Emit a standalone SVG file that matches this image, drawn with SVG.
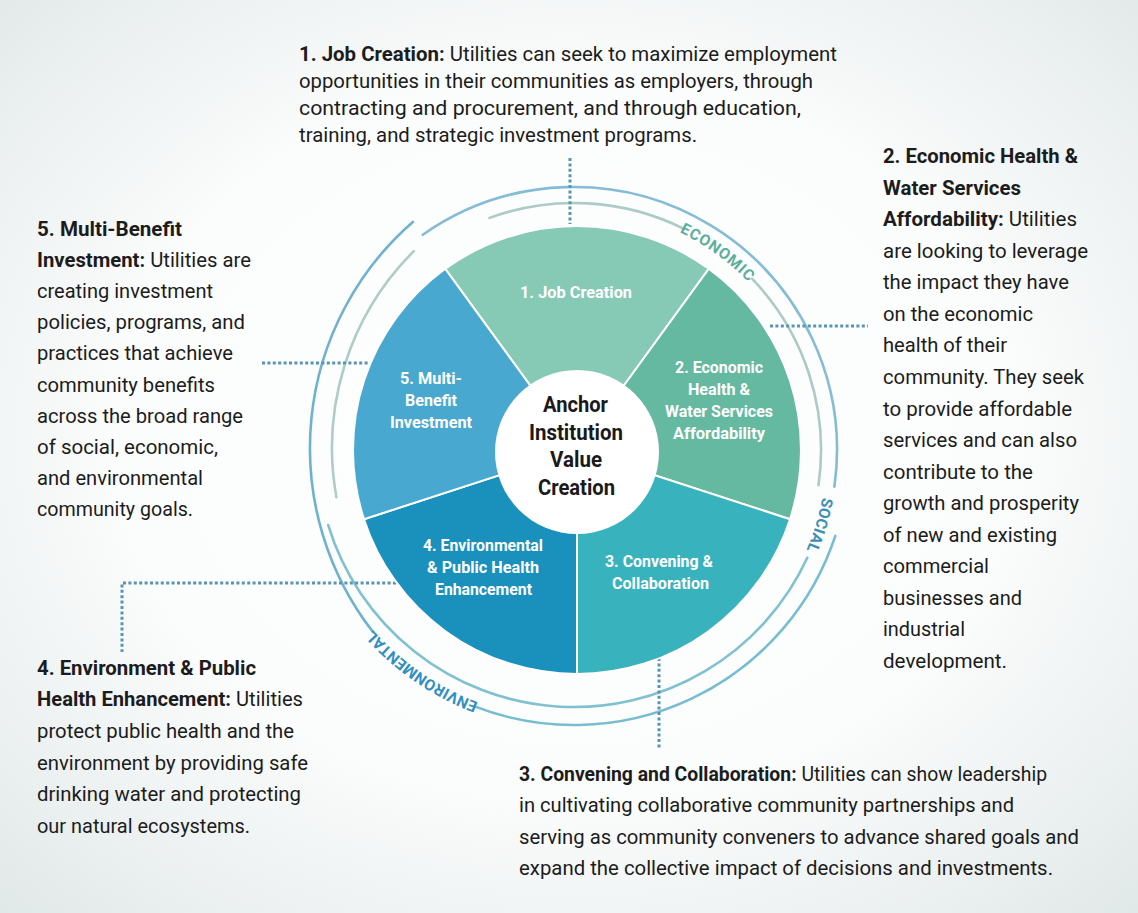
<svg xmlns="http://www.w3.org/2000/svg" width="1138" height="913" viewBox="0 0 1138 913">
<defs>
<radialGradient id="bg" cx="50%" cy="48%" r="72%">
<stop offset="0" stop-color="#ffffff"/>
<stop offset="0.55" stop-color="#fbfcfc"/>
<stop offset="1" stop-color="#e1e8e8"/>
</radialGradient>
<path id="pEco" d="M656.8,222.6 A242,242 0 0 1 764.7,301"/>
<path id="pSoc" d="M826,472 A253,253 0 0 1 795.3,572.7"/>
<path id="pEnv" d="M504.1,710.8 A270,270 0 0 1 355.6,608.7"/>
</defs>
<style>
.body{font-family:Roboto,"Liberation Sans",sans-serif;font-size:20.5px;fill:#1c1c1c}
.b{font-weight:bold}
.lab{font-family:Roboto,"Liberation Sans",sans-serif;font-size:17px;font-weight:bold;fill:#ffffff}
.ctr{font-family:Roboto,"Liberation Sans",sans-serif;font-size:22px;font-weight:bold;fill:#1a1a1a}
.sec{stroke:#ffffff;stroke-width:2}
.ring{fill:none;stroke-width:2.6;stroke-linecap:round}
.dot{fill:none;stroke:#5696b3;stroke-width:3;stroke-dasharray:3 2.4}
.arcl{font-family:Roboto,"Liberation Sans",sans-serif;font-size:15.5px;font-weight:bold}
</style>
<rect x="0" y="0" width="1138" height="913" fill="url(#bg)"/>

<g id="rings">
<path class="ring" stroke="#84bcd6" d="M422.8,234.8 A263,263 0 0 1 834.4,486.6"/>
<path class="ring" stroke="#abcbc4" d="M489.5,217.9 A247,247 0 0 1 684.2,229"/>
<path class="ring" stroke="#abcbc4" d="M752,278.7 A247,247 0 0 1 818.5,485.2"/>
<path class="ring" stroke="#77bdd0" d="M835.3,535.9 A275,275 0 0 1 474.6,706.4"/>
<path class="ring" stroke="#80c1d0" d="M807.3,557.8 A257,257 0 0 1 328.2,525.1"/>
<path class="ring" stroke="#6fb1d1" d="M372.9,631.9 A300,300 0 0 1 412.8,221.9"/>
<path class="ring" stroke="#aecdc6" d="M336.4,497.2 A278,278 0 0 1 413.8,251.1"/>
<text class="arcl" fill="#5aae9a" letter-spacing="0.8"><textPath href="#pEco" startOffset="50%" text-anchor="middle">ECONOMIC</textPath></text>
<text class="arcl" fill="#3a8fb5" letter-spacing="0.2"><textPath href="#pSoc" startOffset="50%" text-anchor="middle">SOCIAL</textPath></text>
<text class="arcl" fill="#2f8fc0" letter-spacing="0.2"><textPath href="#pEnv" startOffset="50%" text-anchor="middle">ENVIRONMENTAL</textPath></text>
</g>

<g id="connectors">
<path class="dot" d="M570,158 V224"/>
<path class="dot" d="M770,326 H868"/>
<path class="dot" d="M262,363 H368"/>
<path class="dot" d="M396,583 H122 V652"/>
<path class="dot" d="M659,658 V748"/>
</g>

<g id="sector1">
<path class="sec" fill="#86cab6" d="M577,450 L445.3,268.8 A224,224 0 0 1 708.7,268.8 Z"/>
<text class="lab" x="520" y="298" textLength="112" lengthAdjust="spacingAndGlyphs">1. Job Creation</text>
</g>
<g id="sector2">
<path class="sec" fill="#64b9a0" d="M577,450 L708.7,268.8 A224,224 0 0 1 790,519.2 Z"/>
<text class="lab" x="675" y="372.5" textLength="88" lengthAdjust="spacingAndGlyphs">2. Economic</text>
<text class="lab" x="688" y="394.5" textLength="62" lengthAdjust="spacingAndGlyphs">Health &amp;</text>
<text class="lab" x="665" y="416.5" textLength="108" lengthAdjust="spacingAndGlyphs">Water Services</text>
<text class="lab" x="673" y="438.5" textLength="92" lengthAdjust="spacingAndGlyphs">Affordability</text>
</g>
<g id="sector3">
<path class="sec" fill="#38b3bd" d="M577,450 L790,519.2 A224,224 0 0 1 577,674 Z"/>
<text class="lab" x="605" y="567" textLength="108" lengthAdjust="spacingAndGlyphs">3. Convening &amp;</text>
<text class="lab" x="612" y="589" textLength="97" lengthAdjust="spacingAndGlyphs">Collaboration</text>
</g>
<g id="sector4">
<path class="sec" fill="#1a90bd" d="M577,450 L577,674 A224,224 0 0 1 364,519.2 Z"/>
<text class="lab" x="423" y="551" textLength="120" lengthAdjust="spacingAndGlyphs">4. Environmental</text>
<text class="lab" x="427" y="573" textLength="112" lengthAdjust="spacingAndGlyphs">&amp; Public Health</text>
<text class="lab" x="435" y="594.5" textLength="97" lengthAdjust="spacingAndGlyphs">Enhancement</text>
</g>
<g id="sector5">
<path class="sec" fill="#48a8cf" d="M577,450 L364,519.2 A224,224 0 0 1 445.3,268.8 Z"/>
<text class="lab" x="400" y="384" textLength="62" lengthAdjust="spacingAndGlyphs">5. Multi-</text>
<text class="lab" x="405" y="406" textLength="52" lengthAdjust="spacingAndGlyphs">Benefit</text>
<text class="lab" x="390" y="428" textLength="82" lengthAdjust="spacingAndGlyphs">Investment</text>
</g>
<g id="center">
<circle cx="577" cy="452" r="82" fill="#ffffff"/>
<text class="ctr" x="543" y="412" textLength="65" lengthAdjust="spacingAndGlyphs">Anchor</text>
<text class="ctr" x="529" y="439.5" textLength="94" lengthAdjust="spacingAndGlyphs">Institution</text>
<text class="ctr" x="550" y="467" textLength="52" lengthAdjust="spacingAndGlyphs">Value</text>
<text class="ctr" x="538" y="495" textLength="77" lengthAdjust="spacingAndGlyphs">Creation</text>
</g>

<g id="text1">
<text class="body" x="299" y="60.5" textLength="538" lengthAdjust="spacingAndGlyphs"><tspan class="b">1. Job Creation:</tspan> Utilities can seek to maximize employment</text>
<text class="body" x="299" y="87.8" textLength="514" lengthAdjust="spacingAndGlyphs">opportunities in their communities as employers, through</text>
<text class="body" x="299" y="115" textLength="502" lengthAdjust="spacingAndGlyphs">contracting and procurement, and through education,</text>
<text class="body" x="299" y="142.3" textLength="398" lengthAdjust="spacingAndGlyphs">training, and strategic investment programs.</text>
</g>

<g id="text2">
<text class="body b" x="883" y="163" textLength="195" lengthAdjust="spacingAndGlyphs">2. Economic Health &amp;</text>
<text class="body b" x="883" y="194.6" textLength="138" lengthAdjust="spacingAndGlyphs">Water Services</text>
<text class="body" x="883" y="226.1" textLength="194" lengthAdjust="spacingAndGlyphs"><tspan class="b">Affordability:</tspan> Utilities</text>
<text class="body" x="883" y="257.7" textLength="205" lengthAdjust="spacingAndGlyphs">are looking to leverage</text>
<text class="body" x="883" y="289.2" textLength="186" lengthAdjust="spacingAndGlyphs">the impact they have</text>
<text class="body" x="883" y="320.8" textLength="150" lengthAdjust="spacingAndGlyphs">on the economic</text>
<text class="body" x="883" y="352.4" textLength="124" lengthAdjust="spacingAndGlyphs">health of their</text>
<text class="body" x="883" y="383.9" textLength="201" lengthAdjust="spacingAndGlyphs">community. They seek</text>
<text class="body" x="883" y="415.5" textLength="189" lengthAdjust="spacingAndGlyphs">to provide affordable</text>
<text class="body" x="883" y="447" textLength="194" lengthAdjust="spacingAndGlyphs">services and can also</text>
<text class="body" x="883" y="478.6" textLength="150" lengthAdjust="spacingAndGlyphs">contribute to the</text>
<text class="body" x="883" y="510.2" textLength="196" lengthAdjust="spacingAndGlyphs">growth and prosperity</text>
<text class="body" x="883" y="541.7" textLength="174" lengthAdjust="spacingAndGlyphs">of new and existing</text>
<text class="body" x="883" y="573.3" textLength="106" lengthAdjust="spacingAndGlyphs">commercial</text>
<text class="body" x="883" y="604.8" textLength="139" lengthAdjust="spacingAndGlyphs">businesses  and</text>
<text class="body" x="883" y="636.4" textLength="82" lengthAdjust="spacingAndGlyphs">industrial</text>
<text class="body" x="883" y="668" textLength="124" lengthAdjust="spacingAndGlyphs">development.</text>
</g>

<g id="text3">
<text class="body" x="519" y="781" textLength="528" lengthAdjust="spacingAndGlyphs"><tspan class="b">3. Convening and Collaboration:</tspan> Utilities can show leadership</text>
<text class="body" x="519" y="812" textLength="495" lengthAdjust="spacingAndGlyphs">in cultivating collaborative community partnerships and</text>
<text class="body" x="519" y="843.5" textLength="560" lengthAdjust="spacingAndGlyphs">serving as community conveners to advance shared goals and</text>
<text class="body" x="519" y="874.5" textLength="534" lengthAdjust="spacingAndGlyphs">expand the collective impact of decisions and investments.</text>
</g>

<g id="text4">
<text class="body b" x="37" y="674.5" textLength="219" lengthAdjust="spacingAndGlyphs">4. Environment &amp; Public</text>
<text class="body" x="37" y="706.2" textLength="266" lengthAdjust="spacingAndGlyphs"><tspan class="b">Health Enhancement:</tspan> Utilities</text>
<text class="body" x="37" y="737.9" textLength="257" lengthAdjust="spacingAndGlyphs">protect public health and the</text>
<text class="body" x="37" y="769.6" textLength="271" lengthAdjust="spacingAndGlyphs">environment by providing safe</text>
<text class="body" x="37" y="801.3" textLength="264" lengthAdjust="spacingAndGlyphs">drinking water and protecting</text>
<text class="body" x="37" y="833" textLength="213" lengthAdjust="spacingAndGlyphs">our natural ecosystems.</text>
</g>

<g id="text5">
<text class="body b" x="37" y="235.5" textLength="145" lengthAdjust="spacingAndGlyphs">5. Multi-Benefit</text>
<text class="body" x="37" y="266.7" textLength="214" lengthAdjust="spacingAndGlyphs"><tspan class="b">Investment:</tspan> Utilities are</text>
<text class="body" x="37" y="297.9" textLength="176" lengthAdjust="spacingAndGlyphs">creating investment</text>
<text class="body" x="37" y="329.1" textLength="208" lengthAdjust="spacingAndGlyphs">policies, programs, and</text>
<text class="body" x="37" y="360.3" textLength="196" lengthAdjust="spacingAndGlyphs">practices that achieve</text>
<text class="body" x="37" y="391.5" textLength="178" lengthAdjust="spacingAndGlyphs">community benefits</text>
<text class="body" x="37" y="422.7" textLength="206" lengthAdjust="spacingAndGlyphs">across the broad range</text>
<text class="body" x="37" y="453.9" textLength="181" lengthAdjust="spacingAndGlyphs">of social, economic,</text>
<text class="body" x="37" y="485.1" textLength="166" lengthAdjust="spacingAndGlyphs">and environmental</text>
<text class="body" x="37" y="516.3" textLength="156" lengthAdjust="spacingAndGlyphs">community goals.</text>
</g>
</svg>
